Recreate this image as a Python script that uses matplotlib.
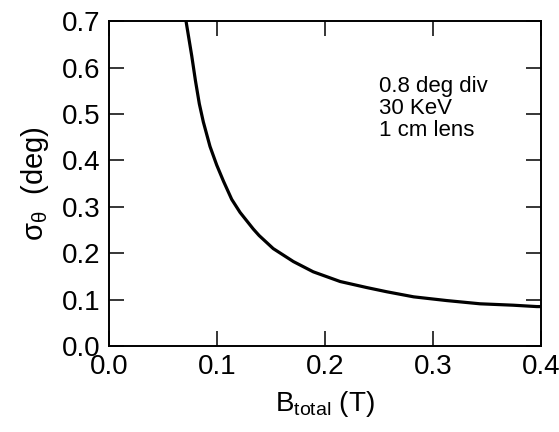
import matplotlib
matplotlib.use('Agg')
import matplotlib.pyplot as plt

plt.rcParams['font.family'] = ['Liberation Sans', 'DejaVu Sans']
plt.rcParams['mathtext.default'] = 'regular'

# curve
b_total = [0.0713, 0.0766, 0.0800, 0.0836, 0.0873, 0.0935, 0.0997, 0.106,
           0.1136, 0.1213, 0.1336, 0.139, 0.152, 0.1707, 0.189, 0.214,
           0.2386, 0.257, 0.282, 0.3125, 0.3435, 0.374, 0.396, 0.400]
sigma = [0.700, 0.625, 0.572, 0.522, 0.483, 0.430, 0.390, 0.355,
         0.316, 0.288, 0.252, 0.238, 0.210, 0.182, 0.160, 0.139,
         0.126, 0.117, 0.106, 0.098, 0.091, 0.088, 0.085, 0.085]

x_ticks = [0.0, 0.1, 0.2, 0.3, 0.4]
y_ticks = [0.0, 0.1, 0.2, 0.3, 0.4, 0.5, 0.6, 0.7]
note = '0.8 deg div\n30 KeV\n1 cm lens'

fig = plt.figure(figsize=(5.59, 4.32), dpi=100)
ax = fig.add_axes([0.195, 0.199, 0.773, 0.752])

ax.plot(b_total, sigma, color='black', lw=2.3)

ax.set_xlim(0, 0.4)
ax.set_ylim(0, 0.7)
ax.set_xticks(x_ticks)
ax.set_yticks(y_ticks)
ax.set_xticklabels(['%.1f' % v for v in x_ticks])
ax.set_yticklabels(['%.1f' % v for v in y_ticks])
ax.tick_params(direction='in', length=11, width=1.1, top=True, right=True,
               labelsize=20, pad=6)
for s in ax.spines.values():
    s.set_linewidth(1.4)

ax.set_xlabel(r'B$_{total}$ (T)', fontsize=20, labelpad=6)
ax.set_ylabel(r'$\sigma_\theta$  (deg)', fontsize=21, labelpad=8)

ax.text(0.25, 0.582, note, fontsize=16, va='top', ha='left',
        linespacing=1.05)

fig.savefig('out.png', dpi=100)
